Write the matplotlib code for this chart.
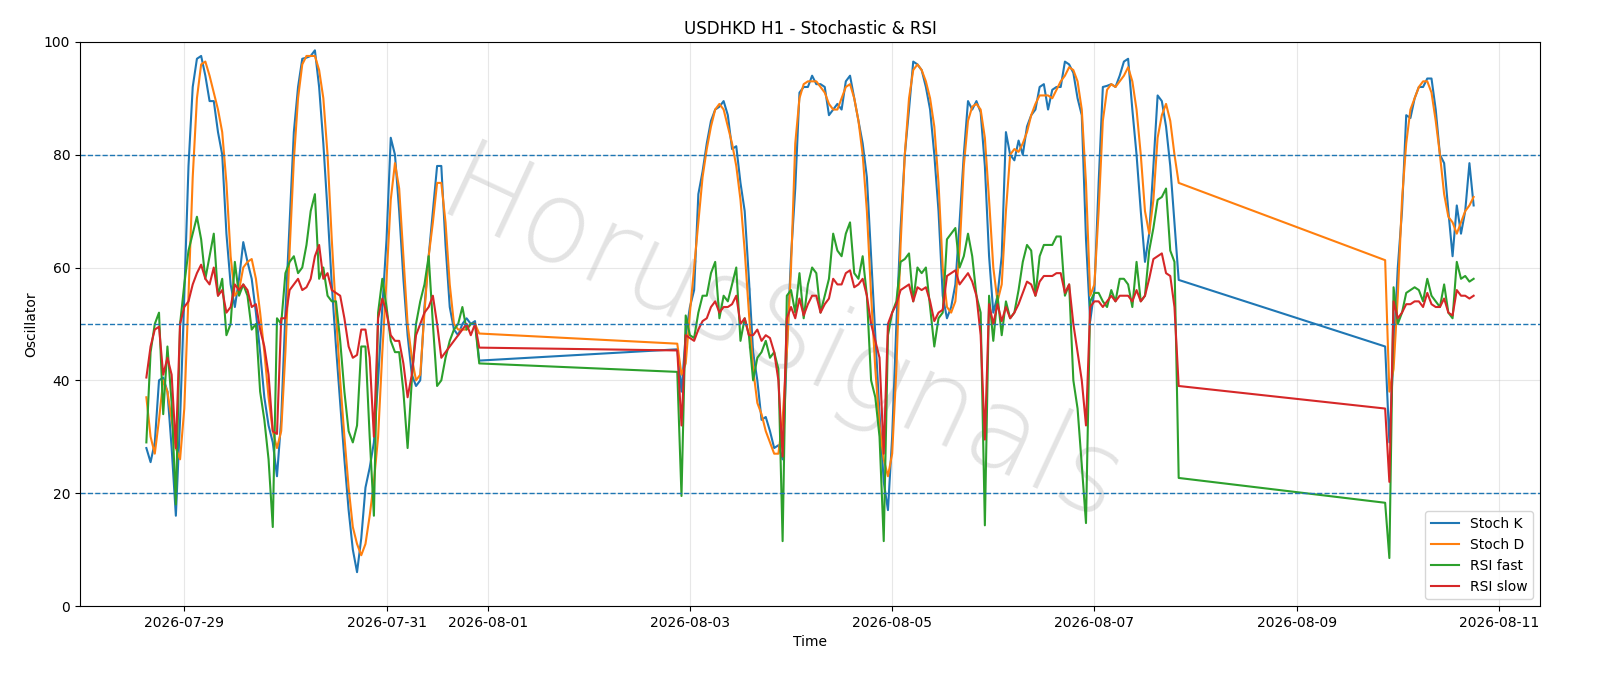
import matplotlib
matplotlib.use("Agg")
import matplotlib.pyplot as plt
import matplotlib.dates as mdates
import numpy as np
import pandas as pd

# ------------------------------------------------------------------
# Datos horarios por tramo (hay huecos de fin de semana entre tramos)
# ------------------------------------------------------------------
seg_starts = ["2026-07-28 15:00", "2026-08-02 21:00", "2026-08-09 21:00"]

stoch_k = [
    [28, 25.5, 29, 40, 40.5, 38, 28, 16, 33, 55, 78, 92, 97, 97.5, 94, 89.5, 89.5, 84, 80, 66,
     57, 53, 58, 64.5, 61, 58, 52, 45, 37, 32, 29, 23, 33, 52, 68, 84, 92, 97, 97.2, 97.5,
     98.5, 92, 82, 70, 57, 46, 36, 26, 17, 10, 6, 12, 21, 24.5, 29, 40, 53, 65, 83, 80,
     70, 58, 48, 41, 39, 40, 53, 62, 70, 78, 78, 64, 53, 49, 48, 50, 51, 50, 50.5, 43.5],
    [45.5, 38, 48, 53, 56, 73, 77, 82, 86, 88, 88.5, 89.5, 87, 81, 81.5, 75, 70, 58, 45, 40,
     33, 33.5, 31, 28, 28.5, 26, 45, 62, 74, 91, 92, 92, 94, 92.5, 92.5, 92, 87, 88, 89, 88,
     93, 94, 90, 86, 82, 76, 62, 48, 34, 22, 17, 30, 50, 67, 80, 88, 96.5, 96, 95, 92,
     88, 80, 70, 55, 51, 53, 57, 68, 80, 89.5, 88, 89.5, 87.5, 78, 62, 52, 55, 62, 84, 80,
     79, 82.5, 80, 85, 87, 88, 92, 92.5, 88, 91.5, 92, 92, 96.5, 96, 94.5, 90, 87, 65, 50.5, 56,
     75, 92, 92.2, 92.5, 92, 94, 96.5, 97, 88, 80, 70, 61, 66, 78, 90.5, 89.5, 85, 78, 68, 57.8],
    [46, 29, 45, 60, 70, 87, 86.5, 90, 92, 92, 93.5, 93.5, 88, 80, 78.5, 70, 62, 71, 66, 70,
     78.5, 71],
]

stoch_d = [
    [37, 30, 27, 33, 40, 38, 33, 28, 26, 35, 55, 76, 90, 96, 96.5, 94, 91, 88, 84, 75,
     62, 55, 56, 60, 61, 61.5, 58, 52, 45, 37, 31, 28, 31, 45, 63, 79, 90, 96, 97.5, 97.5,
     97.5, 95, 90, 80, 65, 52, 40, 30, 21, 14, 11, 9, 11, 16, 22, 30, 45, 58, 72, 78.5,
     74, 62, 50, 44, 40, 41, 52, 62, 68, 75, 75, 68, 57, 50, 49, 49, 49, 50, 50, 48.3],
    [46.5, 41, 43, 52, 60, 68, 76, 81, 85, 88, 89, 88, 85, 82, 78, 72, 63, 52, 42, 36,
     34, 31, 29, 27, 27, 33, 45, 60, 82, 90, 92.5, 93, 93, 93, 92, 91, 89, 88, 88, 90,
     92, 92.5, 90, 86, 80, 70, 55, 42, 32, 26, 23, 27, 42, 64, 80, 90, 95, 96, 95, 93,
     90, 85, 75, 60, 53, 52, 54, 63, 78, 86, 88.5, 89, 88, 83, 72, 60, 54, 57, 70, 80,
     81, 80.5, 82, 84, 87, 89, 90.5, 90.5, 90.5, 90, 91.5, 93, 94, 95.5, 95, 93, 88, 75, 55, 57,
     70, 86, 91.5, 92.5, 92, 93, 94, 95.5, 93, 88, 80, 70, 66, 72, 83, 87, 89, 86, 80, 75],
    [61.3, 38, 42, 55, 72, 82, 88, 90, 92, 93, 93, 91, 86, 80, 73, 69, 68, 66, 68, 70,
     71, 72.5],
]

rsi_fast = [
    [29, 45, 50, 52, 34, 46, 36, 18, 50, 57, 63, 66, 69, 65, 58, 62, 66, 55, 58, 48,
     50, 61, 55, 57, 55, 49, 50, 38, 33, 26, 14, 51, 50, 59, 61, 62, 59, 60, 64, 70,
     73, 58, 60, 55, 54, 54, 47, 38, 31, 29, 32, 46, 46, 30, 16, 52, 58, 53, 47, 45,
     45, 38, 28, 40, 50, 54, 57, 62, 50, 39, 40, 44, 47, 49, 50, 53, 49, 50, 50, 43],
    [41.5, 19.5, 51.5, 48, 47.5, 52, 55, 55, 59, 61, 51, 55, 54, 57, 60, 47, 51, 48, 40, 44,
     45, 47, 44, 45, 42, 11.5, 55, 56, 52, 59, 51, 57, 60, 59, 52, 55, 58, 66, 63, 62,
     66, 68, 59, 58, 62, 55, 40, 37, 30, 11.5, 48, 52, 54, 61, 61.5, 62.5, 54, 60, 59, 60,
     53, 46, 51, 52, 65, 66, 67, 60, 62, 66, 62, 55, 52, 14.3, 55, 47, 55, 48, 54, 51,
     52, 56, 61, 64, 63, 55, 62, 64, 64, 64, 65.5, 65.5, 55, 57, 40, 35, 25, 14.7, 54, 55.5,
     55.5, 54, 53, 56, 54, 58, 58, 57, 53, 61, 54, 55, 63, 67, 72, 72.5, 74, 63, 61, 22.7],
    [18.3, 8.5, 56.5, 50, 52, 55.5, 56, 56.5, 56, 54, 58, 55, 54, 53, 57, 52, 51, 61, 58, 58.5,
     57.5, 58],
]

rsi_slow = [
    [40.5, 46, 49, 49.5, 41, 44, 41, 28, 50, 53, 54, 57, 59, 60.5, 58, 57, 60, 55, 56, 52,
     53, 57, 56, 57, 56, 53, 53.5, 49, 46, 41, 31, 30.5, 51, 51, 56, 57, 58, 56, 56.5, 58,
     62, 64, 58, 59, 56, 55.5, 55, 51, 46, 44, 44.5, 49, 49, 44, 30, 51, 54.5, 52, 48, 47,
     47, 43, 37, 41, 48, 50, 52, 53, 55, 50, 44, 45, 46, 47, 48, 49, 50, 48, 50, 45.8],
    [45.3, 32, 48, 47.5, 47, 49, 50.5, 51, 53, 54, 52, 53, 53, 53.5, 55, 50, 51, 48, 48, 49,
     47, 48, 47.5, 45, 40, 26.5, 51, 53, 51, 54.5, 51.5, 53.5, 55, 55, 52, 53.5, 54.5, 58, 57, 57,
     59, 59.5, 56.5, 57, 58, 55, 50, 47, 44, 27, 50, 52, 53.5, 56, 56.5, 57, 54, 56.5, 56, 56.5,
     54, 50.5, 52, 52.5, 58.5, 59, 59.5, 57, 58, 59, 57.5, 55, 48, 29.5, 53.5, 50, 53.5, 50.5, 53, 51,
     52, 53.5, 55.5, 57.5, 57, 55, 57.5, 58.5, 58.5, 58.5, 59, 59, 55.5, 57, 50, 45, 40, 32, 53, 54,
     54, 53, 54, 55, 54, 55, 55, 55, 54, 56, 54, 55, 58, 61.5, 62, 62.5, 59, 58.5, 53, 39],
    [35, 22, 54, 51, 52, 53.5, 53.5, 54, 54, 53, 55.5, 53.5, 53, 53, 54.5, 52, 51.5, 56, 55, 55,
     54.5, 55],
]


def join_series(segments):
    times, vals = [], []
    for start, seg in zip(seg_starts, segments):
        times.extend(pd.date_range(start, periods=len(seg), freq="h"))
        vals.extend(seg)
    return pd.DatetimeIndex(times), np.array(vals, dtype=float)


fig = plt.figure(figsize=(16, 6.86), dpi=100)
ax = fig.add_axes([0.05, 0.1166, 0.9125, 0.8224])

for segs, lab in [(stoch_k, "Stoch K"), (stoch_d, "Stoch D"),
                  (rsi_fast, "RSI fast"), (rsi_slow, "RSI slow")]:
    t, v = join_series(segs)
    ax.plot(t, v, label=lab, linewidth=1.5)

for lvl in (20, 50, 80):
    ax.axhline(lvl, linestyle="--", linewidth=1, color="C0")

ax.set_ylim(0, 100)
ax.set_title("USDHKD H1 - Stochastic & RSI")
ax.set_xlabel("Time")
ax.set_ylabel("Oscillator")
ax.grid(True, alpha=0.3)
ax.set_xticks(pd.to_datetime(["2026-07-29", "2026-07-31", "2026-08-01", "2026-08-03",
                              "2026-08-05", "2026-08-07", "2026-08-09", "2026-08-11"]))
ax.xaxis.set_major_formatter(mdates.DateFormatter("%Y-%m-%d"))
ax.legend(loc="lower right")

# marca de agua
ax.text(0.48, 0.47, "HorusSignals", transform=ax.transAxes, fontsize=82,
        color="gray", alpha=0.22, rotation=-25, ha="center", va="center",
        fontweight="light", zorder=0)

fig.savefig("out.png", dpi=100)
